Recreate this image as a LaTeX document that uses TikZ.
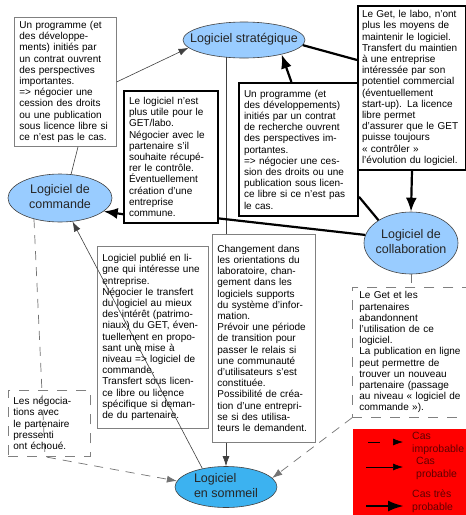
\documentclass[tikz,border=0pt]{standalone}
\usepackage{fontspec}
\setmainfont{Liberation Sans}
\usetikzlibrary{arrows.meta,shapes.geometric,calc}

\definecolor{skyfill}{RGB}{153,204,255}
\definecolor{sleepfill}{RGB}{60,178,240}
\definecolor{legendred}{RGB}{255,0,0}
\definecolor{legendtext}{rgb}{0.38,0,0}

% text of an ellipse, kept out of the shape's size computation
\newcommand\slimc[1]{\makebox[0pt]{\begin{tabular}{@{}c@{}}#1\end{tabular}}}
\newcommand\sliml[1]{\makebox[0pt]{\begin{tabular}{@{}l@{}}#1\end{tabular}}}
% one justified line of a boxed note
\newcommand\jline[1]{\makebox[\linewidth][s]{#1}}
% two-line legend label
\newcommand\keytext[2]{\textcolor{legendtext}{#1}\\\textcolor{legendtext}{#2}}

\begin{document}
\begin{tikzpicture}[x=1pt,y=-1pt,
  every node/.style={font=\fontsize{10}{11.2}\selectfont},
  soft/.style={ellipse, draw=black!75, line width=0.6pt, fill=skyfill,
    inner sep=0pt, font=\fontsize{12.5}{14.5}\selectfont, text=black!85},
  notebox/.style={rectangle, anchor=north west, align=left,
    inner xsep=5pt, inner ysep=3pt, fill=white},
  thinbox/.style={notebox, draw=black!50, line width=0.8pt},
  boldbox/.style={notebox, draw=black, line width=2pt},
  dashbox/.style={notebox, draw=black!50, line width=0.8pt,
    dash pattern=on 10pt off 9pt},
  probable/.style={draw=black!75, line width=0.6pt},
  improbable/.style={draw=black!55, line width=0.7pt, dash pattern=on 9pt off 7pt},
  likely/.style={draw=black, line width=2.2pt},
  tipthin/.style={-{Latex[length=10pt,width=7pt]}},
  tipbold/.style={-{Latex[length=14pt,width=11pt]}},
  keylabel/.style={anchor=north west, align=left, inner sep=0pt,
    text=legendtext, font=\fontsize{10.5}{12.5}\selectfont},
]
\useasboundingbox (0,0) rectangle (466,515);
\fill[white] (0,0) rectangle (466,515);

% ---- states of the software ----
\node[soft, minimum width=122pt, minimum height=36pt] (strat) at (244,40)
  {\slimc{Logiciel stratégique}};
\node[soft, minimum width=104pt, minimum height=48pt] (cmd) at (60,198)
  {\slimc{Logiciel de\\commande}};
\node[soft, minimum width=94pt, minimum height=62pt] (collab) at (411,243)
  {\slimc{Logiciel de\\collaboration}};
\node[soft, fill=sleepfill, minimum width=102pt, minimum height=38pt] (sleep) at (226,487)
  {\sliml{Logiciel\\en sommeil}};

% ---- transition notes ----
\node[thinbox, text width=92pt, minimum height=129pt] (progA) at (14,17)
  {Un programme (et\\des développe-\\ments) initiés par\\un contrat ouvrent\\des perspectives\\importantes.\\=> négocier une\\cession des droits\\ou une publication\\sous licence libre si\\ce n'est pas le cas.};

\node[boldbox, inner xsep=4pt, text width=100pt, minimum height=164pt] (keep) at (357,5)
  {Le Get, le labo, n'ont\\plus les moyens de\\maintenir le logiciel.\\Transfert du maintien\\à une entreprise\\intéressée par son\\potentiel commercial\\(éventuellement\\start-up). La licence\\libre permet\\d'assurer que le GET\\puisse toujours\\«~contrôler~»\\l'évolution du logiciel.};

\node[boldbox, text width=84pt, minimum height=132pt] (useless) at (123,90)
  {Le logiciel n'est\\plus utile pour le\\GET/labo.\\Négocier avec le\\partenaire s'il\\souhaite récupé-\\rer le contrôle.\\Éventuellement\\création d'une\\entreprise\\commune.};

\node[boldbox, text width=109pt, minimum height=133pt] (research) at (238,82)
  {Un programme (et\\des développements)\\initiés par un contrat\\de recherche ouvrent\\des perspectives im-\\portantes.\\=> négocier une ces-\\sion des droits ou une\\publication sous licen-\\ce libre si ce n'est pas\\le cas.};

\node[thinbox, text width=101pt, minimum height=182pt] (online) at (97,246)
  {\jline{Logiciel publié en li-}\\\jline{gne qui intéresse une}\\entreprise.\\\jline{Négocier le transfert}\\\jline{du logiciel au mieux}\\\jline{des intérêt (patrimo-}\\\jline{niaux) du GET, éven-}\\\jline{tuellement en propo-}\\\jline{sant une mise à}\\\jline{niveau => logiciel de}\\commande.\\\jline{Transfert sous licen-}\\ce libre ou licence\\\jline{spécifique si deman-}\\de du partenaire.};

\node[thinbox, text width=93pt, minimum height=208pt] (changes) at (212,234)
  {Changement dans\\les orientations du\\laboratoire, chan-\\gement dans les\\logiciels supports\\du système d'infor-\\mation.\\Prévoir une période\\de transition pour\\passer le relais si\\une communauté\\d'utilisateurs s'est\\constituée.\\Possibilité de créa-\\tion d'une entrepri-\\se si des utilisa-\\teurs le demandent.};

\node[dashbox, inner xsep=7pt, text width=114pt, minimum height=130pt] (giveup) at (352,287)
  {Le Get et les\\partenaires\\abandonnent\\l'utilisation de ce\\logiciel.\\La publication en ligne\\peut permettre de\\trouver un nouveau\\partenaire (passage\\au niveau «~logiciel de\\commande~»).};

\node[dashbox, text width=72pt, minimum height=66pt] (failed) at (8,390)
  {Les négocia-\\tions avec\\le partenaire\\pressenti\\ont échoué.};

% ---- probable transitions (thin) ----
\draw[probable] (cmd.65) -- (progA.-79);
\draw[probable, tipthin] (progA.east) -- (strat.188);
\draw[probable] (strat.224) -- (strat.224 |- changes.north);
\draw[probable, tipthin] (sleep.north |- changes.south) -- (sleep.north);
\draw[probable, tipthin] (sleep.142) -- (cmd.-62);

% ---- very probable transitions (thick) ----
\draw[likely] (strat.-5) -- (keep.153);
\draw[likely, tipbold] (keep.south) -- (collab.north);
\draw[likely] (collab.145) -- (research.-38);
\draw[likely, tipbold] (research.96) -- (strat.-21);
\draw[likely] (collab.170) -- (useless.-52);
\draw[likely, tipbold] (useless.230) -- (cmd.-17);

% ---- improbable transitions (dashed) ----
\draw[improbable] (collab.south) -- (collab.south |- giveup.north);
\draw[improbable, tipthin] (giveup.south west) -- (sleep.11);
\draw[improbable, tipthin] (cmd.219) -- ($(failed.south west)+(37,0)$) -- (sleep.173);

% ---- legend ----
\node[fill=legendred, draw=legendred, anchor=north west, inner sep=0pt,
  minimum width=117pt, minimum height=90pt] (legend) at (353,429) {};
\coordinate (k1s) at (368,442); \coordinate (k1e) at (403,442);
\coordinate (k2s) at (366,467); \coordinate (k2e) at (403,467);
\coordinate (k3s) at (366,506); \coordinate (k3e) at (404,506);
\draw[black, line width=0.6pt, dash pattern=on 12pt off 30pt, tipthin] (k1s) -- (k1e);
\draw[black, line width=0.6pt, tipthin] (k2s) -- (k2e);
\draw[black, line width=2.5pt, -{Latex[length=16pt,width=11pt]}] (k3s) -- (k3e);
\node[keylabel] (lab1) at (412,432) {\keytext{Cas}{improbable}};
\node[keylabel] (lab2) at (416,457) {\keytext{Cas}{probable}};
\node[keylabel] (lab3) at (412,490) {\keytext{Cas très}{probable}};
\end{tikzpicture}
\end{document}
